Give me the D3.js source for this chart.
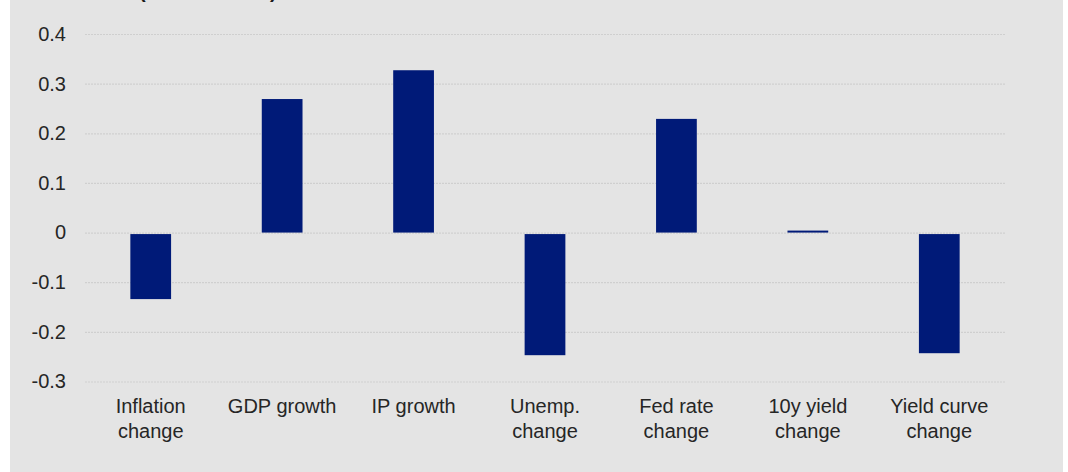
<!DOCTYPE html>
<html>
<head>
<meta charset="utf-8">
<script src="https://cdn.jsdelivr.net/npm/d3@7/dist/d3.min.js"></script>
<style>
  html, body { margin: 0; padding: 0; background: #ffffff; }
  svg { display: block; }
  text { font-family: "Liberation Sans", Arial, sans-serif; }
</style>
</head>
<body>
<svg id="chart" width="1068" height="472"></svg>
<script>
// Factor sensitivities by macro variable
const categories = [
  ["Inflation", "change"],
  ["GDP growth"],
  ["IP growth"],
  ["Unemp.", "change"],
  ["Fed rate", "change"],
  ["10y yield", "change"],
  ["Yield curve", "change"]
];
const values = [-0.134, 0.269, 0.327, -0.247, 0.229, 0.004, -0.243];
const yTicks = [0.4, 0.3, 0.2, 0.1, 0, -0.1, -0.2, -0.3];
const titleText = "Coefficient (standardised)";

const svg = d3.select("#chart");
const W = 1068, H = 472;
const plot = { left: 85, right: 1005, top: 34, bottom: 381.5 };

// panel background
svg.append("rect")
  .attr("x", 10).attr("y", 0)
  .attr("width", 1053).attr("height", H)
  .attr("fill", "#e4e4e4");

// title, mostly above the visible area
svg.append("text")
  .attr("x", 30).attr("y", -2)
  .attr("font-size", 20).attr("font-weight", "bold")
  .attr("fill", "#1a1a1a")
  .text(titleText);

const y = d3.scaleLinear().domain([-0.3, 0.4]).range([plot.bottom, plot.top]);
const x = d3.scaleBand()
  .domain(d3.range(categories.length))
  .range([plot.left, plot.right])
  .paddingInner(0.69).paddingOuter(0.345);

// gridlines and value labels (plain hyphen for negatives)
const fmt = d => d === 0 ? "0" : (d < 0 ? "-" : "") + Math.abs(d).toFixed(1);
const yAxis = d3.axisLeft(y).tickValues(yTicks)
  .tickSize(-(plot.right - plot.left)).tickPadding(19)
  .tickFormat(fmt);
const gy = svg.append("g")
  .attr("transform", `translate(${plot.left},0)`)
  .call(yAxis);
gy.select(".domain").remove();
gy.selectAll(".tick line")
  .attr("stroke", "#cfcfcf").attr("stroke-width", 1.2)
  .attr("stroke-dasharray", "2,1");
gy.selectAll(".tick text")
  .attr("font-size", 20).attr("fill", "#262626")
  .attr("font-family", "Liberation Sans, Arial, sans-serif");

// bars (negative bars sit just under the zero line)
svg.append("g").selectAll("rect")
  .data(values)
  .join("rect")
  .attr("x", (d, i) => x(i))
  .attr("width", x.bandwidth())
  .attr("y", d => d >= 0 ? y(d) : y(0) + 1.5)
  .attr("height", d => d >= 0 ? Math.max(1.5, y(0) - y(d)) : y(d) - y(0) - 1.5)
  .attr("fill", "#001a78");

// category labels
const lab = svg.append("g").selectAll("text")
  .data(categories)
  .join("text")
  .attr("text-anchor", "middle")
  .attr("font-size", 20)
  .attr("fill", "#262626")
  .attr("transform", (d, i) => `translate(${x(i) + x.bandwidth() / 2},412.5)`);
lab.selectAll("tspan")
  .data(d => d)
  .join("tspan")
  .attr("x", 0)
  .attr("y", (d, j) => j * 25.5)
  .text(d => d);
</script>
</body>
</html>
